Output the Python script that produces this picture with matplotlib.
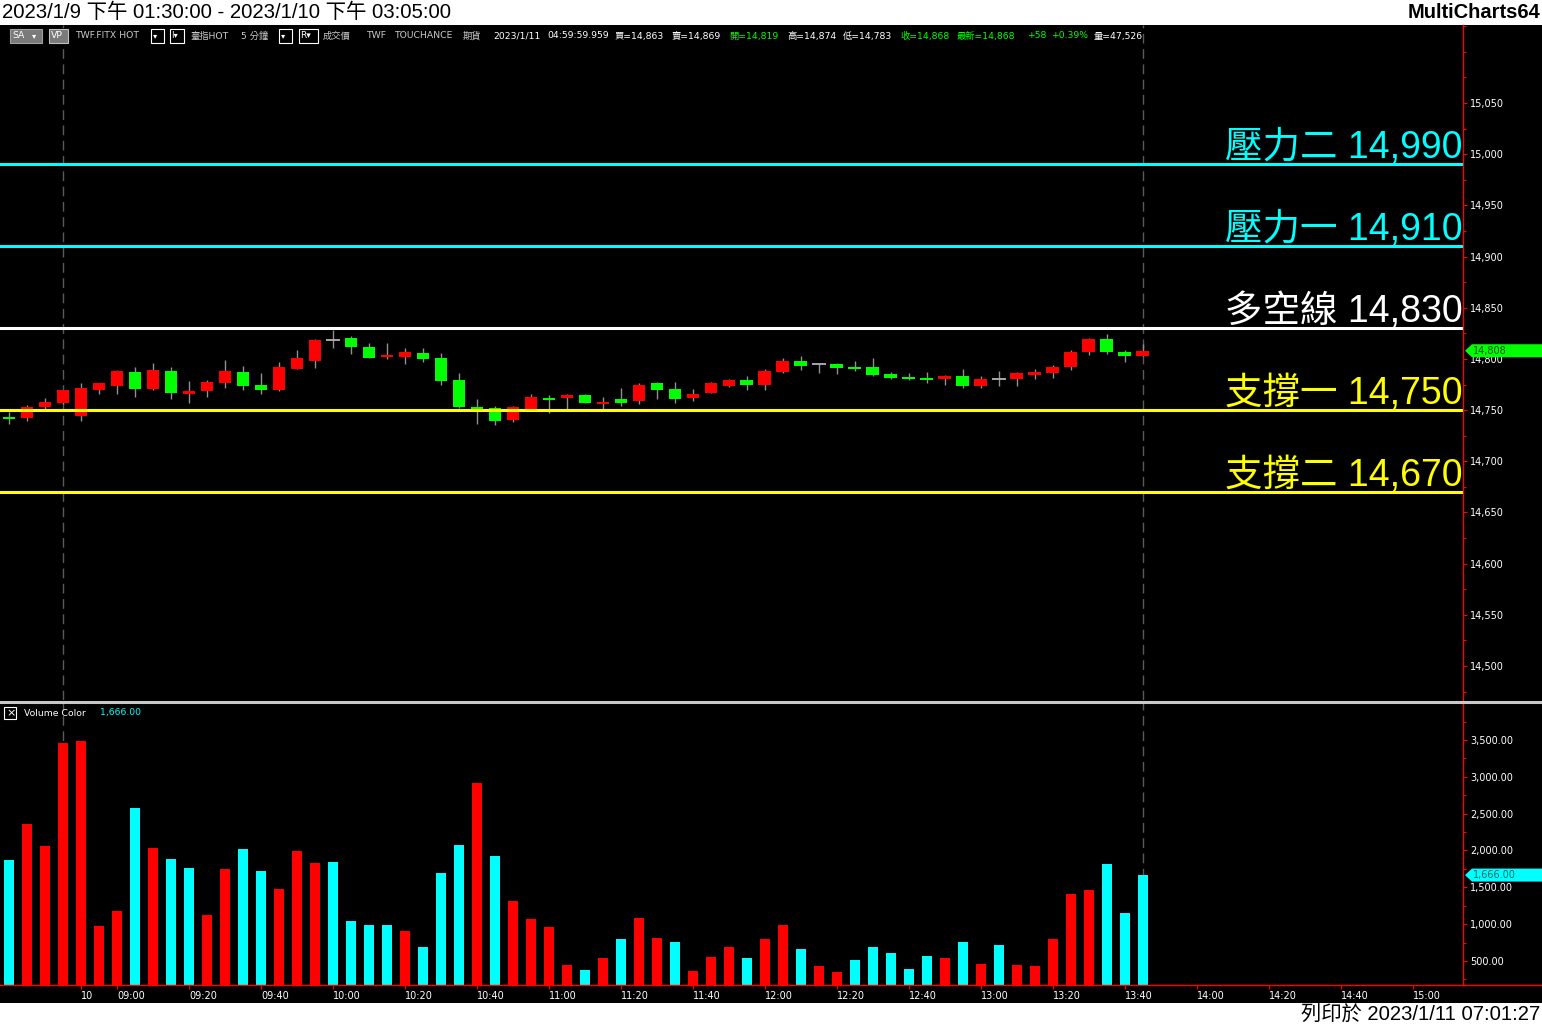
import matplotlib
matplotlib.use('Agg')
import matplotlib.pyplot as plt
import matplotlib.transforms as mtrans
import matplotlib.ticker as mticker
from matplotlib.patches import Rectangle, Polygon
from matplotlib.lines import Line2D

# ---------------- data ----------------
opens = [14743, 14742, 14753, 14757, 14744, 14770, 14774, 14787, 14771, 14788,
         14766, 14769, 14776, 14787, 14775, 14770, 14790, 14798, 14818, 14820,
         14812, 14802, 14802, 14806, 14801, 14779, 14753, 14752, 14740, 14751,
         14762, 14762, 14765, 14756, 14761, 14759, 14776, 14771, 14762, 14767,
         14774, 14779, 14775, 14787, 14798, 14795, 14795, 14792, 14792, 14785,
         14782, 14781, 14780, 14783, 14774, 14780, 14780, 14784, 14786, 14792,
         14807, 14819, 14807, 14803]
highs = [14748, 14755, 14762, 14770, 14776, 14776, 14789, 14792, 14796, 14792,
         14778, 14779, 14799, 14793, 14786, 14797, 14809, 14819, 14828, 14822,
         14816, 14816, 14811, 14811, 14806, 14786, 14761, 14754, 14754, 14766,
         14765, 14766, 14766, 14763, 14772, 14776, 14777, 14777, 14771, 14777,
         14780, 14783, 14790, 14801, 14803, 14796, 14796, 14798, 14801, 14787,
         14786, 14787, 14784, 14790, 14783, 14788, 14787, 14790, 14794, 14809,
         14820, 14824, 14809, 14815]
lows = [14736, 14739, 14751, 14756, 14739, 14766, 14766, 14763, 14770, 14761,
        14757, 14763, 14772, 14770, 14766, 14769, 14790, 14791, 14811, 14805,
        14801, 14800, 14795, 14797, 14775, 14752, 14736, 14735, 14738, 14751,
        14747, 14751, 14757, 14751, 14754, 14756, 14761, 14757, 14759, 14767,
        14773, 14770, 14770, 14786, 14789, 14786, 14785, 14788, 14783, 14780,
        14779, 14776, 14775, 14772, 14772, 14774, 14774, 14780, 14781, 14789,
        14804, 14805, 14797, 14803]
closes = [14741, 14753, 14758, 14770, 14772, 14776, 14788, 14771, 14789, 14767,
          14769, 14777, 14788, 14774, 14770, 14792, 14801, 14818, 14818, 14812,
          14801, 14804, 14807, 14800, 14778, 14753, 14751, 14739, 14753, 14763,
          14760, 14765, 14757, 14758, 14757, 14775, 14770, 14761, 14766, 14776,
          14779, 14775, 14788, 14798, 14793, 14795, 14791, 14790, 14784, 14781,
          14780, 14779, 14783, 14774, 14780, 14780, 14786, 14787, 14792, 14807,
          14819, 14807, 14803, 14808]
volumes = [1871, 2360, 2061, 3459, 3487, 975, 1179, 2577, 2034, 1885,
           1762, 1124, 1749, 2020, 1722, 1477, 1993, 1830, 1844, 1043,
           989, 989, 907, 690, 1695, 2075, 2916, 1925, 1315, 1070,
           962, 446, 378, 541, 799, 1084, 812, 758, 364, 554,
           690, 541, 799, 989, 663, 432, 351, 514, 690, 609,
           391, 568, 541, 758, 459, 717, 446, 432, 799, 1410,
           1464, 1817, 1152, 1666]
# C = cyan bar, R = red bar
vol_flags = list("CRRRRRRCRC" "CRRCCRRRCC" "CCRCCCRCRR" "RRCRCRRCRR"
                 "RCRRCRRCCC" "CCRCRCRRRR" "RCCC")
session_breaks = [3, 63]
tick_pos = [4, 6, 10, 14, 18, 22, 26, 30, 34, 38, 42, 46, 50, 54, 58, 62, 66, 70, 74, 78]
tick_labels = ['10', '09:00', '09:20', '09:40', '10:00', '10:20', '10:40', '11:00',
               '11:20', '11:40', '12:00', '12:20', '12:40', '13:00', '13:20', '13:40',
               '14:00', '14:20', '14:40', '15:00']
levels = [14990, 14910, 14830, 14750, 14670]
level_names = ['壓力二', '壓力一', '多空線', '支撐一', '支撐二']
level_colors = ['#00FFFF', '#00FFFF', '#FFFFFF', '#FFFF00', '#FFFF00']
price_ticks = [14500, 14550, 14600, 14650, 14700, 14750, 14800, 14850, 14900, 14950, 15000, 15050]
vol_ticks = [500, 1000, 1500, 2000, 2500, 3000, 3500]

title_text = '2023/1/9 下午 01:30:00 - 2023/1/10 下午 03:05:00'
print_text = '列印於 2023/1/11 07:01:27'

# ---------------- figure ----------------
plt.rcParams['font.family'] = ['DejaVu Sans', 'Noto Sans CJK TC']
BIG = ['Liberation Sans', 'Noto Sans CJK TC']
W, H = 1542, 1026
fig = plt.figure(figsize=(15.42, 10.26), dpi=100, facecolor='white')


def fx(x):
    return x / W


def fy(y):
    return 1 - y / H


fig.add_artist(Rectangle((0, fy(1003)), 1, fy(25) - fy(1003), transform=fig.transFigure,
                         facecolor='black', edgecolor='none', zorder=0))

XL = (-0.5, 80.78)
ax = fig.add_axes([0, fy(700), fx(1463), fy(25) - fy(700)], facecolor='black')
ax2 = fig.add_axes([0, fy(985), fx(1463), fy(703) - fy(985)], facecolor='black')
for a in (ax, ax2):
    a.set_xlim(*XL)
    for s in ('top', 'left', 'bottom'):
        a.spines[s].set_visible(False)
    a.spines['right'].set_color('#FF0000')
    a.spines['right'].set_linewidth(1.0)
    a.yaxis.tick_right()
    a.tick_params(axis='y', which='major', colors='#FF0000', labelcolor='white',
                  labelsize=7, length=3, width=0.8, pad=2)
    a.tick_params(axis='y', which='minor', colors='#FF0000', length=2, width=0.8)

# ---- price panel ----
ax.set_ylim(14466.8, 15126.2)
ax.set_yticks(price_ticks)
ax.yaxis.set_minor_locator(mticker.MultipleLocator(25))
ax.yaxis.set_major_formatter(mticker.FuncFormatter(lambda v, p: f'{v:,.0f}'))
ax.set_xticks([])

for b in session_breaks:
    ax.axvline(b, color='#5a5a5a', lw=1.0, ls=(0, (7, 4)), zorder=1)
    ax2.axvline(b, color='#5a5a5a', lw=1.0, ls=(0, (7, 4)), zorder=1)

wick_col = '#909090'
for i in range(len(closes)):
    o, h, l, c = opens[i], highs[i], lows[i], closes[i]
    ax.vlines(i, l, h, color=wick_col, lw=1.0, zorder=3)
    if c == o:
        ax.hlines(o, i - 0.4, i + 0.4, color='#a8a8a8', lw=1.4, zorder=4)
        continue
    col = '#FF0000' if c > o else '#00FF00'
    lo, hi = min(o, c), max(o, c)
    if hi - lo < 2:
        mid = (hi + lo) / 2
        lo, hi = mid - 1, mid + 1
    ax.bar(i, hi - lo, bottom=lo, width=0.72, color=col, edgecolor='none', zorder=4)

ltrans = mtrans.blended_transform_factory(ax.transAxes, ax.transData)
for lv, nm, cl in zip(levels, level_names, level_colors):
    ax.axhline(lv, color=cl, lw=2.2, zorder=5)
    t = mtrans.offset_copy(ltrans, fig=fig, y=6, units='dots')
    ax.text(0.9995, lv, f'{nm} {lv:,}', transform=t, ha='right', va='baseline',
            color=cl, fontsize=27, family=BIG, weight='light', zorder=6)

# ---- volume panel ----
ax2.set_ylim(174, 4002)
ax2.set_yticks(vol_ticks)
ax2.yaxis.set_minor_locator(mticker.MultipleLocator(250))
ax2.yaxis.set_major_formatter(mticker.FuncFormatter(lambda v, p: f'{v:,.2f}'))
vcols = ['#00FFFF' if f == 'C' else '#FF0000' for f in vol_flags]
ax2.bar(range(len(volumes)), volumes, width=0.6, color=vcols, edgecolor='none', zorder=3)
ax2.set_xticks(tick_pos)
ax2.set_xticklabels(tick_labels)
ax2.tick_params(axis='x', colors='#FF0000', labelcolor='white', labelsize=7,
                length=3, width=0.8, pad=1)
for lbl in ax2.get_xticklabels():
    lbl.set_horizontalalignment('left')

# figure-level lines
fig.add_artist(Line2D([0, 1], [fy(985), fy(985)], color='#FF0000', lw=1.0,
                      transform=fig.transFigure))
fig.add_artist(Line2D([0, 1], [fy(701.5), fy(701.5)], color='#c8c8c8', lw=2.2,
                      transform=fig.transFigure))


# axis value markers
def axis_marker(axis, value, text, fc, tc):
    trans = mtrans.blended_transform_factory(fig.transFigure, axis.transData)
    ylo, yhi = axis.get_ylim()
    dpp = (yhi - ylo) / axis.bbox.height
    h = 6.5 * dpp
    pts = [(fx(1465), value), (fx(1472), value + h), (fx(1542), value + h),
           (fx(1542), value - h), (fx(1472), value - h)]
    fig.add_artist(Polygon(pts, closed=True, transform=trans, facecolor=fc,
                           edgecolor='none', zorder=10))
    fig.add_artist(plt.Text(fx(1473), value, text, transform=trans, ha='left',
                            va='center', fontsize=7, color=tc, zorder=11))


axis_marker(ax, closes[-1], f'{closes[-1]:,}', '#00FF00', '#005000')
axis_marker(ax2, volumes[-1], f'{volumes[-1]:,.2f}', '#00FFFF', '#006a6a')

# ---- top / bottom strips ----
fig.text(fx(2), fy(12.5), title_text, fontsize=14.7, family=BIG, color='black', va='center', ha='left')
fig.text(fx(1540), fy(12.5), 'MultiCharts64', fontsize=14.5, family=BIG, weight='bold',
         color='black', va='center', ha='right')
fig.text(fx(1540), fy(1015), print_text, fontsize=14.6, family=BIG, color='black', va='center', ha='right')

# ---- info bar ----
IY = 36


def put(x, s, color, size=6.7, y=IY, **kw):
    fig.text(fx(x), fy(y), s, color=color, fontsize=size, va='center', ha='left', **kw)


def box(x0, x1, fc, ec, y0=29, y1=43):
    fig.add_artist(Rectangle((fx(x0), fy(y1)), fx(x1) - fx(x0), fy(y0) - fy(y1),
                             transform=fig.transFigure, facecolor=fc, edgecolor=ec, lw=0.8))


box(10, 42, '#7a7a7a', '#a0a0a0')
put(12, 'SA', 'white')
put(32, '▾', 'white', size=6)
box(49, 68, '#7a7a7a', '#c0c0c0')
put(51, 'VP', 'white')
box(151, 164, 'black', 'white')
put(153, '▾', 'white', size=6)
box(170, 184, 'black', 'white')
put(171, 'I▾', 'white', size=6)
box(279, 292, 'black', 'white')
put(281, '▾', 'white', size=6)
box(299, 318, 'black', 'white')
put(300, 'R▾', 'white', size=6.5)

info = [(75, 'TWF.FITX HOT', '#c8c8c8'), (190, '臺指HOT', '#c8c8c8'), (241, '5 分鐘', '#c8c8c8'),
        (323, '成交價', '#c8c8c8'), (366, 'TWF', '#c8c8c8'), (394, 'TOUCHANCE', '#c8c8c8'),
        (463, '期貨', '#c8c8c8'), (493, '2023/1/11', 'white'), (547, '04:59:59.959', 'white'),
        (615, '買=14,863', 'white'), (672, '賣=14,869', 'white'), (729, '開=14,819', '#00FF00'),
        (787, '高=14,874', 'white'), (843, '低=14,783', 'white'), (900, '收=14,868', '#00FF00'),
        (957, '最新=14,868', '#00FF00'), (1027, '+58', '#00FF00'), (1051, '+0.39%', '#00FF00'),
        (1094, '量=47,526', 'white')]
for x, s, c in info:
    put(x, s, c)

# volume header
box(4, 16, 'black', 'white', y0=707, y1=719)
put(6, '×', 'white', size=8, y=713)
put(24, 'Volume Color', 'white', y=713)
put(100, f'{volumes[-1]:,.2f}', '#00FFFF', y=713)

fig.savefig('out.png', dpi=100, facecolor='white')
